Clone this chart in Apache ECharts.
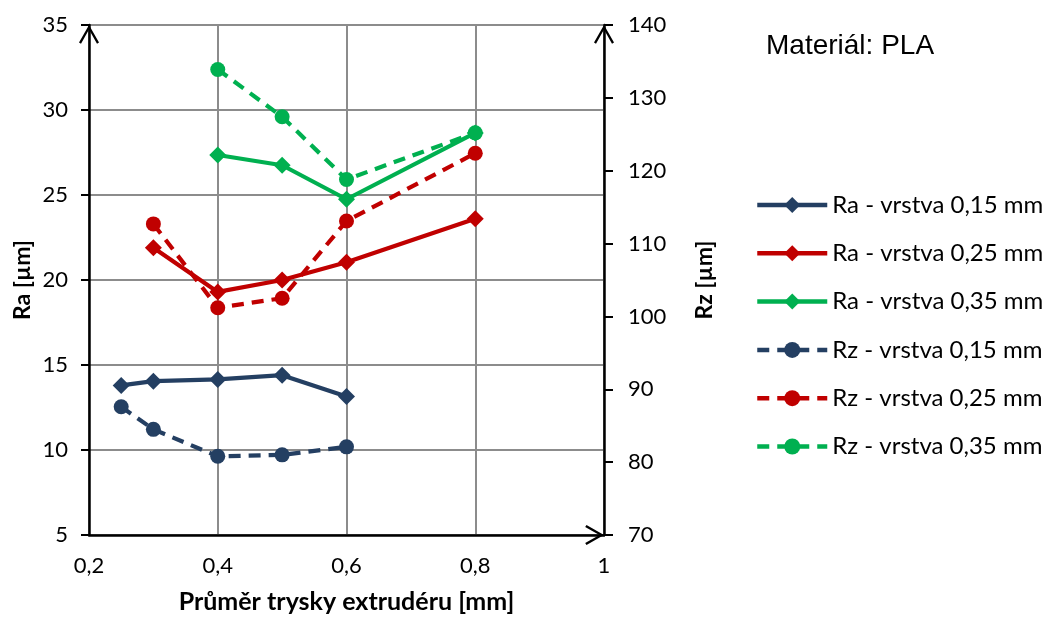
<!DOCTYPE html>
<html>
<head>
<meta charset="utf-8">
<script src="https://cdn.jsdelivr.net/npm/echarts@6/dist/echarts.min.js"></script>
<style>
html,body{margin:0;padding:0;background:#fff;}
#chart{width:1049px;height:619px;}
</style>
</head>
<body>
<div id="chart"></div>
<script>
// Data
const xRa015 = [0.25, 0.3, 0.4, 0.5, 0.6];
const yRa015 = [13.8, 14.05, 14.15, 14.4, 13.15];
const xRa025 = [0.3, 0.4, 0.5, 0.6, 0.8];
const yRa025 = [21.9, 19.3, 20.0, 21.05, 23.6];
const xRa035 = [0.4, 0.5, 0.6, 0.8];
const yRa035 = [27.35, 26.75, 24.75, 28.65];
const xRz015 = [0.25, 0.3, 0.4, 0.5, 0.6];
const yRz015 = [87.6, 84.5, 80.8, 81.0, 82.1];
const xRz025 = [0.3, 0.4, 0.5, 0.6, 0.8];
const yRz025 = [112.7, 101.2, 102.5, 113.1, 122.4];
const xRz035 = [0.4, 0.5, 0.6, 0.8];
const yRz035 = [133.9, 127.4, 118.8, 125.2];

const seriesNames = ['Ra - vrstva 0,15 mm','Ra - vrstva 0,25 mm','Ra - vrstva 0,35 mm','Rz - vrstva 0,15 mm','Rz - vrstva 0,25 mm','Rz - vrstva 0,35 mm'];
const titleText = 'Materiál: PLA';
const xName = 'Průměr trysky extrudéru [mm]';
const yLeftName = 'Ra [µm]';
const yRightName = 'Rz [µm]';

const C_BLUE = '#243F62', C_RED = '#C00000', C_GREEN = '#00B050';
const FONT = 'Lato';
const arrow = 'path://M10,0 L20,17.5 L18,18.8 L10,4.6 L2,18.8 L0,17.5 Z';

function pairs(xs, ys){ return xs.map((x,i)=>[x, ys[i]]); }
function mk(name, xs, ys, color, dashed, yIdx){
  return {
    name: name, type: 'line', yAxisIndex: yIdx,
    data: pairs(xs, ys),
    symbol: dashed ? 'circle' : 'diamond',
    symbolSize: dashed ? 15 : 17,
    showSymbol: true,
    itemStyle: {color: color},
    lineStyle: {color: color, width: 4.2, type: dashed ? [12, 8] : 'solid'},
    emphasis: {disabled: true},
    animation: false
  };
}

const chart = echarts.init(document.getElementById('chart'), null, {renderer: 'canvas'});
const axisLineStyle = {color: '#000', width: 2.5};
chart.setOption({
  animation: false,
  title: {
    text: titleText, left: 761, top: 27,
    textStyle: {fontFamily: 'Liberation Sans', fontSize: 28, fontWeight: 'normal', color: '#000'}
  },
  legend: {
    orient: 'vertical', left: 755, top: 193,
    itemWidth: 70, itemHeight: 20, itemGap: 24.3,
    padding: 0,
    lineStyle: {width: 4.5},
    textStyle: {fontFamily: FONT, fontSize: 24, color: '#000'},
    data: seriesNames
  },
  grid: {left: 89, right: 445, top: 25, bottom: 81, containLabel: false},
  xAxis: {
    type: 'value', min: 0.2, max: 1, interval: 0.2,
    name: xName, nameLocation: 'middle', nameGap: 54,
    nameTextStyle: {fontFamily: FONT, fontSize: 25, fontWeight: 'bold', color: '#000'},
    axisLine: {show: true, lineStyle: axisLineStyle, symbol: ['none', arrow], symbolSize: [20, 18.8], symbolOffset: [0, -9.4]},
    axisTick: {show: false},
    axisLabel: {fontFamily: FONT, fontSize: 22, color: '#000', margin: 20,
      formatter: v => String(+v.toFixed(1)).replace('.', ',')},
    splitLine: {show: true, lineStyle: {color: '#8c8c8c', width: 2}}
  },
  yAxis: [{
    type: 'value', min: 5, max: 35, interval: 5, position: 'left',
    name: yLeftName, nameLocation: 'middle', nameGap: 55, nameRotate: 90,
    nameTextStyle: {fontFamily: FONT, fontSize: 23, fontWeight: 'bold', color: '#000'},
    axisLine: {show: true, lineStyle: axisLineStyle, symbol: ['none', arrow], symbolSize: [20, 18.8], symbolOffset: [0, -9.4]},
    axisTick: {show: true, inside: false, length: 8, lineStyle: {color: '#000', width: 2}},
    axisLabel: {fontFamily: FONT, fontSize: 22, color: '#000', margin: 21},
    splitLine: {show: true, lineStyle: {color: '#8c8c8c', width: 2}}
  }, {
    type: 'value', min: 70, max: 140, interval: 10, position: 'right',
    name: yRightName, nameLocation: 'middle', nameGap: 89, nameRotate: 90,
    nameTextStyle: {fontFamily: FONT, fontSize: 23, fontWeight: 'bold', color: '#000'},
    axisLine: {show: true, lineStyle: axisLineStyle, symbol: ['none', arrow], symbolSize: [20, 18.8], symbolOffset: [0, -9.4]},
    axisTick: {show: true, inside: false, length: 9, lineStyle: {color: '#000', width: 2}},
    axisLabel: {fontFamily: FONT, fontSize: 22, color: '#000', margin: 24},
    splitLine: {show: false}
  }],
  series: [
    mk(seriesNames[0], xRa015, yRa015, C_BLUE, false, 0),
    mk(seriesNames[1], xRa025, yRa025, C_RED, false, 0),
    mk(seriesNames[2], xRa035, yRa035, C_GREEN, false, 0),
    mk(seriesNames[3], xRz015, yRz015, C_BLUE, true, 1),
    mk(seriesNames[4], xRz025, yRz025, C_RED, true, 1),
    mk(seriesNames[5], xRz035, yRz035, C_GREEN, true, 1)
  ]
});
</script>
</body>
</html>
